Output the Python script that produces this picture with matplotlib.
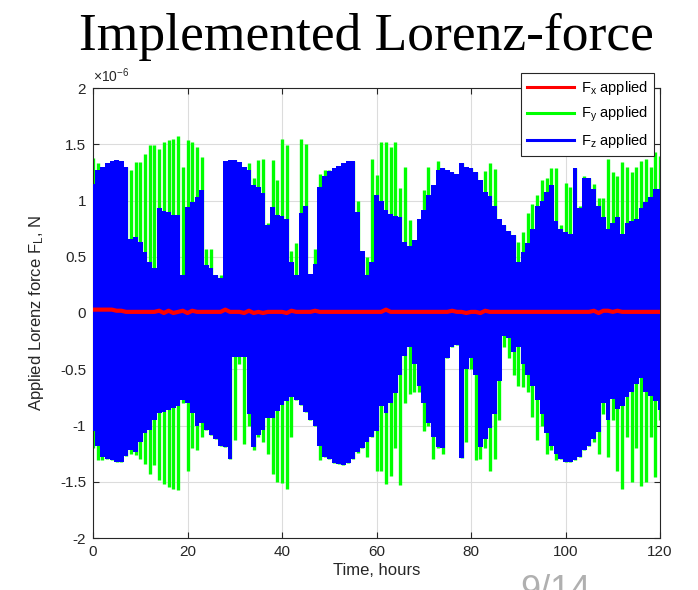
import numpy as np
import matplotlib
matplotlib.use('Agg')
import matplotlib.pyplot as plt

plt.rcParams['font.family'] = 'Liberation Sans'
plt.rcParams['mathtext.fontset'] = 'custom'
plt.rcParams['mathtext.rm'] = 'Liberation Sans'
plt.rcParams['mathtext.it'] = 'Liberation Sans:italic'

# time samples, hours
hours = np.arange(0, 121)

# envelopes, units of 1e-6 N
fz_top = [1.15, 1.27, 1.30, 1.33, 1.35, 1.36, 1.35, 1.30, 0.66, 0.68,
          0.63, 0.54, 0.45, 0.40, 0.93, 0.91, 0.90, 0.87, 0.87, 0.34,
          0.94, 0.99, 1.03, 1.09, 0.43, 0.40, 0.34, 0.31, 1.35, 1.36,
          1.36, 1.34, 1.30, 1.27, 1.14, 1.12, 1.07, 0.78, 0.94, 0.87,
          0.86, 0.84, 0.45, 0.34, 0.89, 0.95, 0.35, 0.44, 1.12, 1.22,
          1.26, 1.29, 1.31, 1.33, 1.35, 1.35, 0.90, 0.55, 0.34, 0.45,
          1.05, 1.00, 0.92, 0.88, 0.86, 0.85, 0.63, 0.60, 0.65, 0.84,
          0.92, 1.05, 1.14, 1.27, 1.29, 1.27, 1.25, 1.24, 1.33, 1.30,
          1.29, 1.25, 1.18, 1.08, 1.04, 0.95, 0.84, 0.78, 0.73, 0.69,
          0.45, 0.54, 0.62, 0.75, 0.95, 1.00, 1.08, 1.14, 0.82, 0.75,
          0.72, 0.70, 1.29, 0.93, 1.20, 1.20, 1.10, 0.95, 0.85, 0.75,
          0.80, 0.85, 0.70, 0.80, 0.82, 0.84, 0.93, 0.99, 1.03, 1.10, 1.10]

fz_bot = [-1.05, -1.18, -1.28, -1.30, -1.31, -1.32, -1.32, -1.27, -1.22, -1.24,
          -1.15, -1.07, -1.04, -0.95, -0.89, -0.88, -0.86, -0.84, -0.83, -0.77,
          -0.80, -0.89, -1.00, -0.98, -1.04, -1.08, -1.12, -1.18, -1.19, -1.30,
          -0.39, -0.39, -0.39, -0.90, -1.19, -1.08, -1.04, -0.93, -0.93, -0.87,
          -0.82, -0.78, -0.75, -0.77, -0.82, -0.88, -0.95, -1.00, -1.18, -1.28,
          -1.30, -1.33, -1.34, -1.35, -1.33, -1.30, -1.24, -1.20, -1.15, -1.10,
          -1.05, -0.83, -0.89, -0.80, -0.71, -0.55, -0.38, -0.30, -0.45, -0.65,
          -0.80, -0.98, -1.10, -1.19, -1.20, -0.40, -0.30, -0.28, -1.29, -0.50,
          -0.40, -0.55, -1.19, -1.12, -1.02, -0.90, -0.60, -0.20, -0.22, -0.35,
          -0.30, -0.45, -0.55, -0.65, -0.77, -0.90, -1.07, -1.18, -1.25, -1.30,
          -1.32, -1.32, -1.31, -1.28, -1.22, -1.18, -1.12, -1.06, -0.80, -0.95,
          -0.76, -0.85, -0.83, -0.75, -0.70, -0.63, -0.58, -0.70, -0.74, -0.78, -0.86]

fy_top = [1.38, 1.33, 1.30, 1.33, 1.35, 1.36, 1.35, 1.30, 1.27, 1.34,
          1.34, 1.41, 1.49, 1.49, 1.46, 1.52, 1.54, 1.55, 1.57, 1.30,
          1.54, 1.52, 1.48, 1.39, 0.57, 0.57, 0.34, 0.34, 1.35, 1.36,
          1.36, 1.34, 1.30, 1.33, 1.20, 1.36, 1.37, 0.80, 1.36, 1.18,
          1.55, 1.49, 0.55, 0.62, 1.55, 1.50, 0.35, 0.57, 1.24, 1.27,
          1.27, 1.29, 1.31, 1.33, 1.35, 1.35, 1.00, 0.55, 0.50, 1.37,
          1.23, 1.52, 1.52, 1.48, 1.52, 1.11, 1.30, 0.83, 0.65, 0.84,
          1.09, 1.30, 1.14, 1.35, 1.29, 1.27, 1.25, 1.24, 1.33, 1.30,
          1.29, 1.25, 1.18, 1.26, 1.33, 1.28, 0.84, 0.78, 0.73, 0.69,
          0.63, 0.72, 0.89, 0.97, 1.05, 1.18, 1.20, 1.29, 1.29, 0.78,
          1.16, 1.12, 1.29, 0.95, 1.22, 1.20, 1.15, 1.02, 1.02, 1.37,
          1.25, 1.22, 1.34, 1.30, 1.25, 1.30, 1.35, 1.37, 1.30, 1.43, 1.40]

fy_bot = [-1.20, -1.31, -1.31, -1.30, -1.31, -1.32, -1.32, -1.27, -1.25, -1.26,
          -1.30, -1.34, -1.43, -1.35, -1.48, -1.52, -1.55, -1.56, -1.57, -0.80,
          -1.40, -1.20, -1.22, -1.10, -1.04, -1.08, -1.12, -1.18, -1.19, -1.30,
          -1.13, -0.45, -1.16, -1.00, -1.22, -1.10, -1.15, -1.25, -1.43, -1.50,
          -1.51, -1.56, -1.10, -0.77, -0.82, -0.88, -0.95, -1.00, -1.31, -1.28,
          -1.30, -1.33, -1.34, -1.35, -1.33, -1.30, -1.24, -1.20, -1.28, -1.10,
          -1.40, -1.40, -1.52, -1.45, -1.20, -1.53, -0.80, -0.72, -0.70, -0.70,
          -1.05, -1.00, -1.30, -1.20, -1.25, -0.40, -0.30, -0.28, -1.29, -1.15,
          -0.50, -1.31, -1.30, -1.20, -1.40, -1.30, -0.95, -0.30, -0.40, -0.55,
          -0.65, -0.66, -0.70, -0.92, -1.13, -1.00, -1.25, -1.22, -1.31, -1.30,
          -1.32, -1.32, -1.31, -1.28, -1.22, -1.18, -1.15, -1.25, -0.90, -1.28,
          -0.95, -1.40, -1.56, -1.10, -1.50, -1.20, -1.54, -1.50, -1.10, -1.46, -0.95]

fx = [0.03, 0.03, 0.03, 0.03, 0.03, 0.02, 0.02, 0.01, 0.01, 0.01,
      0.01, 0.01, 0.01, 0.01, 0.02, 0.00, 0.02, 0.00, 0.01, 0.02,
      0.00, 0.02, 0.01, 0.01, 0.01, 0.01, 0.01, 0.01, 0.03, 0.01,
      0.01, 0.01, 0.00, 0.02, 0.00, 0.01, 0.00, 0.01, 0.01, 0.01,
      0.01, 0.00, 0.02, 0.01, 0.01, 0.01, 0.01, 0.02, 0.01, 0.01,
      0.01, 0.01, 0.01, 0.01, 0.01, 0.01, 0.01, 0.01, 0.01, 0.01,
      0.01, 0.01, 0.03, 0.01, 0.01, 0.01, 0.01, 0.01, 0.01, 0.01,
      0.01, 0.01, 0.01, 0.01, 0.01, 0.01, 0.02, 0.01, 0.01, 0.00,
      0.01, 0.01, 0.00, 0.02, 0.01, 0.01, 0.01, 0.01, 0.01, 0.01,
      0.01, 0.01, 0.01, 0.01, 0.01, 0.01, 0.01, 0.01, 0.01, 0.01,
      0.01, 0.01, 0.01, 0.01, 0.01, 0.01, 0.02, 0.00, 0.02, 0.02,
      0.01, 0.02, 0.01, 0.01, 0.01, 0.01, 0.01, 0.01, 0.01, 0.01, 0.01]

xticks = [0, 20, 40, 60, 80, 100, 120]
yticks = [-2, -1.5, -1, -0.5, 0, 0.5, 1, 1.5, 2]
ytick_labels = ['-2', '-1.5', '-1', '-0.5', '0', '0.5', '1', '1.5', '2']

fig = plt.figure(figsize=(6.98, 5.90), dpi=100)
ax = fig.add_axes([93/698, 52/590, 567/698, 450/590])

ax.grid(True, color='#dcdcdc', lw=0.8, zorder=0)
ax.set_axisbelow(True)

ax.vlines(hours, fy_bot, fy_top, colors=(0, 1, 0), linewidth=2.4, zorder=2)
ax.fill_between(hours, fz_bot, fz_top, step='mid', color=(0, 0, 1), lw=0, zorder=3)
ax.plot(hours, fx, color=(1, 0, 0), lw=3, zorder=4)

ax.set_xlim(0, 120)
ax.set_ylim(-2, 2)
ax.set_xticks(xticks)
ax.set_yticks(yticks)
ax.set_yticklabels(ytick_labels)
ax.tick_params(direction='in', top=True, right=True, length=4, width=0.8,
               labelsize=11, colors='#262626', pad=5)
for s in ax.spines.values():
    s.set_color('#262626')
    s.set_linewidth(0.8)

ax.set_xlabel('Time, hours', fontsize=12, color='#262626', labelpad=3)
ax.set_ylabel('Applied Lorenz force F$_{\\mathrm{L}}$, N', fontsize=12, color='#262626', labelpad=10)
ax.text(0.0, 1.006, '×10$^{-6}$', transform=ax.transAxes, fontsize=10,
        color='#262626', ha='left', va='bottom')

# legend with proxy lines
h1, = ax.plot([], [], color=(1, 0, 0), lw=2.2)
h2, = ax.plot([], [], color=(0, 1, 0), lw=2.2)
h3, = ax.plot([], [], color=(0, 0, 1), lw=2.2)
leg = ax.legend([h1, h2, h3],
                ['F$_{\\mathrm{x}}$ applied', 'F$_{\\mathrm{y}}$ applied', 'F$_{\\mathrm{z}}$ applied'],
                loc='upper right', bbox_to_anchor=(654/698, 1 - 73/590),
                bbox_transform=fig.transFigure, fontsize=10.5, fancybox=False,
                framealpha=1, edgecolor='#262626', handlelength=3.2,
                borderaxespad=0, labelspacing=0.55, borderpad=0.4,
                handletextpad=0.5)
leg.get_frame().set_linewidth(0.8)
leg.set_zorder(10)

fig.text(0.525, 1 - 50/590, 'Implemented Lorenz-force', family='Liberation Serif',
         fontsize=38.5, ha='center', va='baseline')
fig.text(520/698, 1 - 574/590, '9/14', fontsize=26, color='#b0b0b0',
         ha='left', va='top')

fig.savefig('out.png', dpi=100)
